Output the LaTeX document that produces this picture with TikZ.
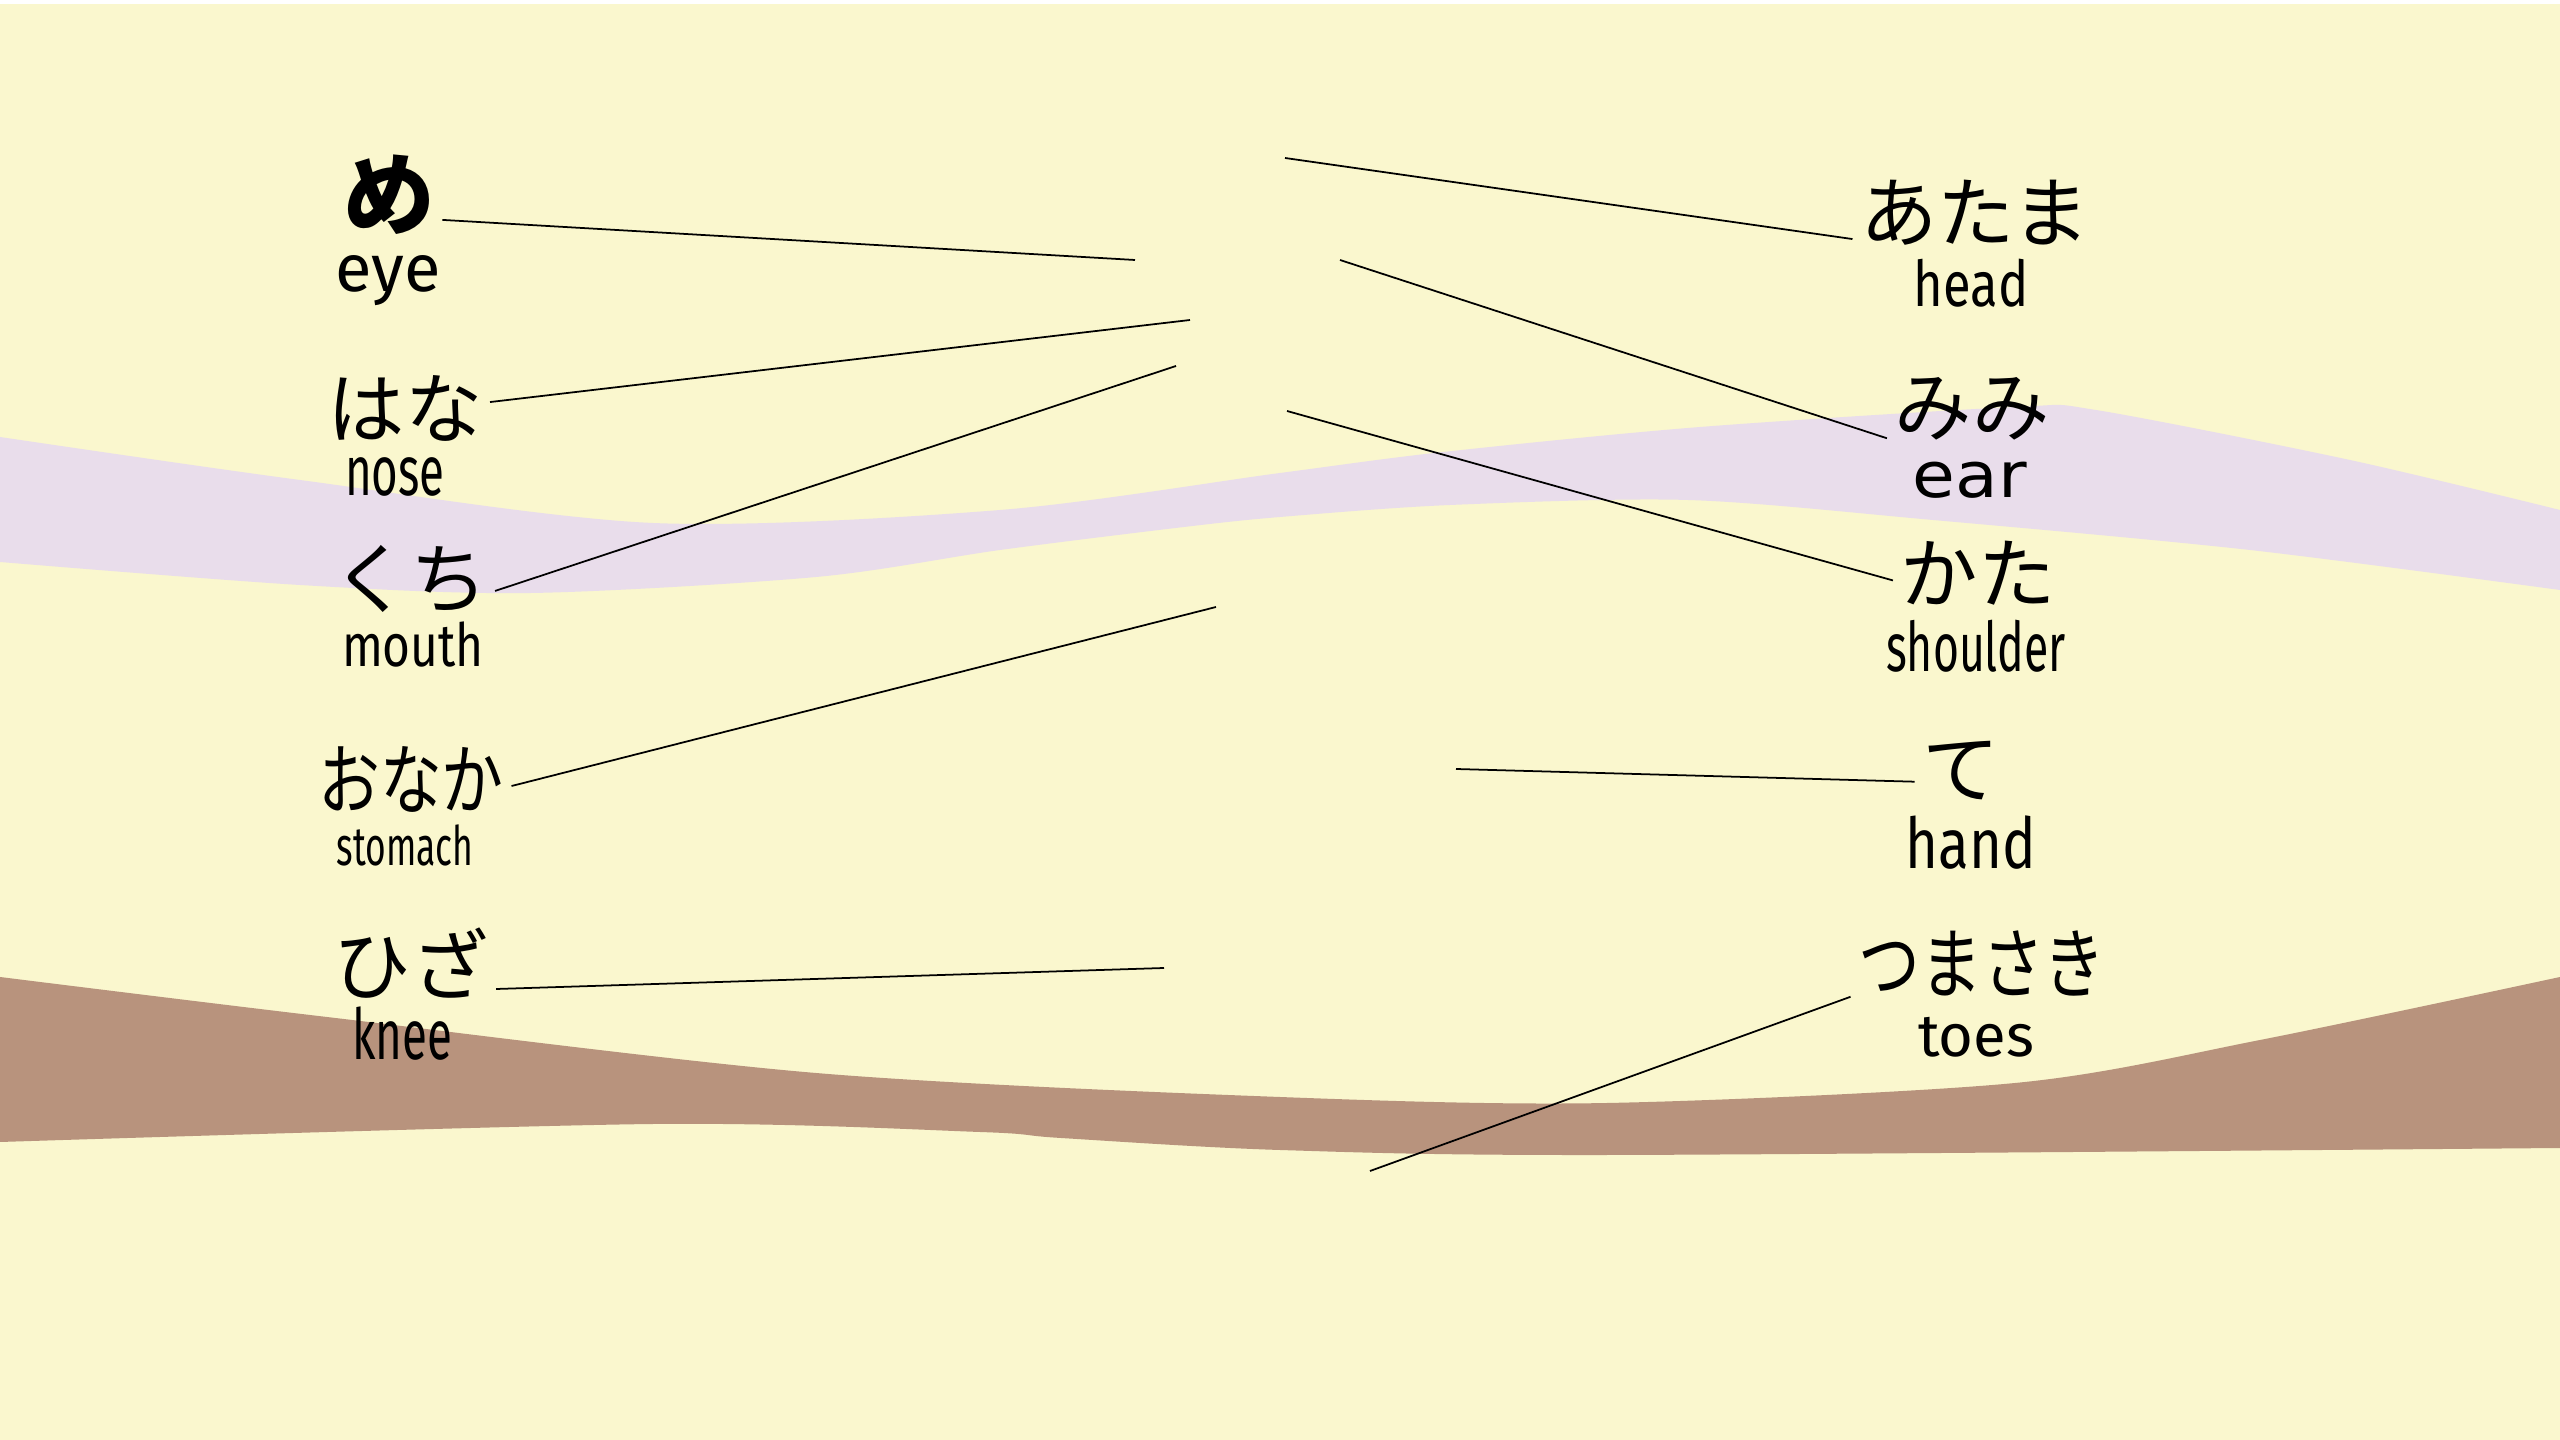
\documentclass[tikz,border=0pt]{standalone}
\usepackage{fontspec}
\newfontfamily\jp{Noto Sans CJK JP}
\newfontfamily\jpn{Noto Sans CJK JP}[FakeStretch=0.8]
\newfontfamily\enA{Fira Sans}
\newfontfamily\enB{Fira Sans}[FakeStretch=0.8]
\newfontfamily\enC{Fira Sans}[FakeStretch=0.65]
\newfontfamily\enE{DejaVu Sans}[FakeStretch=1.1]
\newcommand{\sz}[1]{\fontsize{#1}{#1}\selectfont}
\definecolor{paper}{RGB}{250,247,206}
\definecolor{lilac}{RGB}{233,221,235}
\definecolor{clay}{RGB}{184,147,125}

\begin{document}
\begin{tikzpicture}[x=0.1mm,y=-0.1mm,
  jp/.style={font=\jp\sz{22},inner sep=2pt},
  en/.style={inner sep=0pt},
  link/.style={line width=0.5pt}]
\useasboundingbox (0,0) rectangle (2560,1440);
\fill[white] (0,0) rectangle (2560,1440);
\fill[paper] (0,4) rectangle (2560,1440);
\fill[lilac] plot[smooth] coordinates {(0,437) (300,480) (653,523) (1000,510) (1280,473) (1443,452) (1700,427) (2015,407) (2096,410) (2350,460) (2560,510)}
  -- plot[smooth] coordinates {(2560,590) (2250,550) (1933,520) (1688,500) (1450,505) (1280,517) (1184,527) (1000,550) (816,577) (531,593) (300,585) (0,562)} -- cycle;
\fill[clay] plot[smooth] coordinates {(0,977) (327,1017) (816,1073) (1280,1097) (1607,1103) (2015,1083) (2260,1040) (2560,977)}
  -- plot[smooth] coordinates {(2560,1148) (1607,1155) (1280,1150) (1061,1138) (980,1132) (653,1124) (0,1142)} -- cycle;

\node[jp,font=\jp\bfseries\sz{26}] at (389,195) (me) {め};
\node[en,font=\enA\sz{19}] at (388,281) (eye) {eye};
\node[jp] at (405,408) (hana) {はな};
\node[en,font=\enC\sz{20}] at (395,477) (nose) {nose};
\node[jp] at (410,579) (kuchi) {くち};
\node[en,font=\enB\sz{17}] at (413,645) (mouth) {mouth};
\node[jp,font=\jpn\sz{22}] at (411,779) (onaka) {おなか};
\node[en,font=\enC\sz{15.5}] at (405,845) (stomach) {stomach};
\node[jp] at (411,963) (hiza) {ひざ};
\node[en,font=\enC\sz{20}] at (402,1034) (knee) {knee};

\node[jp] at (1975,213) (atama) {あたま};
\node[en,font=\enB\sz{18}] at (1971,283) (head) {head};
\node[jp] at (1972,409) (mimi) {みみ};
\node[en,font=\enE\sz{18}] at (1970,480) (ear) {ear};
\node[jp] at (1978,573) (kata) {かた};
\node[en,font=\enC\sz{19.5}] at (1976,646) (shoulder) {shoulder};
\node[jp] at (1961,771) (te) {て};
\node[en,font=\enB\sz{20}] at (1971,843) (hand) {hand};
\node[jp,font=\jpn\sz{22}] at (1982,964) (tsumasaki) {つまさき};
\node[en,font=\enA\sz{17}] at (1976,1037) (toes) {toes};

\coordinate (eye-end) at (1135,260);
\coordinate (nose-end) at (1190,320);
\coordinate (mouth-end) at (1176,366);
\coordinate (stomach-end) at (1216,607);
\coordinate (knee-end) at (1164,968);
\coordinate (head-end) at (1285,158);
\coordinate (ear-end) at (1340,260);
\coordinate (shoulder-end) at (1287,411);
\coordinate (hand-end) at (1456,769);
\coordinate (toes-end) at (1370,1171);

\draw[link] (me.-25) -- (eye-end);
\draw[link] (hana.4) -- (nose-end);
\draw[link] (kuchi.-8) -- (mouth-end);
\draw[link] (onaka.-4) -- (stomach-end);
\draw[link] (hiza.-17) -- (knee-end);
\draw[link] (head-end) -- (atama.-168);
\draw[link] (ear-end) -- (mimi.-161);
\draw[link] (shoulder-end) -- (kata.-175);
\draw[link] (hand-end) -- (te.-167);
\draw[link] (toes-end) -- (tsumasaki.-166);
\end{tikzpicture}
\end{document}
